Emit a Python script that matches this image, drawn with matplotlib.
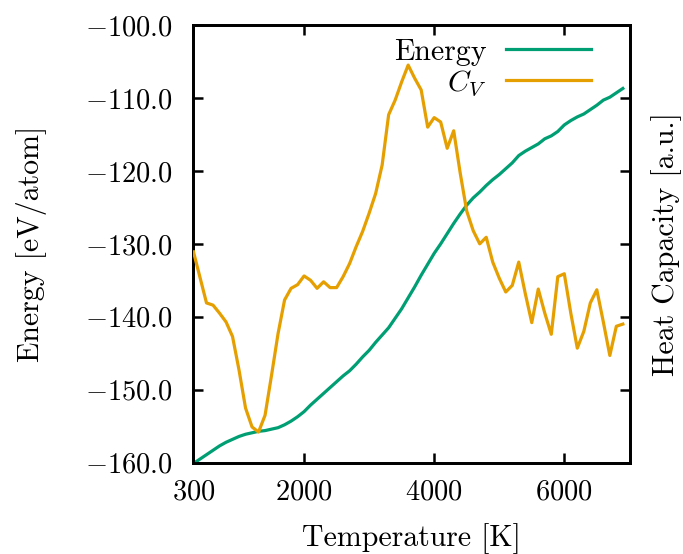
import numpy as np
import matplotlib
matplotlib.use("Agg")
import matplotlib.pyplot as plt
from matplotlib.ticker import FormatStrFormatter

plt.rcParams['font.family'] = ['cmr10', 'DejaVu Serif']
plt.rcParams['mathtext.fontset'] = 'cm'
plt.rcParams['axes.unicode_minus'] = False
plt.rcParams['font.size'] = 21.5

temperature = list(range(300, 7000, 100))

energy = [-160.1, -159.5, -158.9, -158.3, -157.7, -157.2, -156.8, -156.4, -156.1, -155.9,
          -155.7, -155.6, -155.4, -155.2, -154.8, -154.3, -153.7, -153.0, -152.1, -151.3,
          -150.5, -149.7, -148.9, -148.1, -147.4, -146.5, -145.5, -144.6, -143.5, -142.5,
          -141.5, -140.2, -138.9, -137.4, -135.9, -134.3, -132.8, -131.3, -130.0, -128.6,
          -127.2, -125.9, -124.7, -123.7, -122.9, -122.0, -121.2, -120.5, -119.7, -118.9,
          -117.9, -117.3, -116.8, -116.3, -115.6, -115.2, -114.6, -113.7, -113.1, -112.6,
          -112.2, -111.6, -111.0, -110.3, -109.9, -109.3, -108.7]

heat_capacity = [28.9, 25.4, 21.9, 21.6, 20.5, 19.3, 17.3, 12.7, 7.5, 4.9,
                 4.2, 6.5, 12.0, 17.7, 22.3, 23.9, 24.4, 25.6, 25.0, 23.9,
                 24.8, 24.0, 24.0, 25.5, 27.3, 29.6, 31.7, 34.2, 36.9, 40.8,
                 47.7, 49.7, 52.2, 54.5, 52.7, 51.1, 46.0, 47.3, 46.7, 43.1,
                 45.5, 39.7, 34.5, 31.8, 30.0, 30.9, 27.5, 25.3, 23.4, 24.3,
                 27.5, 23.2, 19.2, 23.8, 20.5, 17.6, 25.5, 25.9, 20.5, 15.7,
                 18.0, 21.9, 23.7, 19.3, 14.7, 18.7, 19.0]

x_ticks = [300, 2000, 4000, 6000]
y_ticks = [-160, -150, -140, -130, -120, -110, -100]

green = '#009E73'
orange = '#E69F00'

fig = plt.figure(figsize=(6.83, 5.54), dpi=100)
ax = fig.add_axes([0.2833, 0.1648, 0.9224 - 0.2833, 0.9549 - 0.1648])
ax2 = ax.twinx()

l1, = ax.plot(temperature, energy, color=green, lw=2.3, label='Energy', zorder=3)
l2, = ax2.plot(temperature, heat_capacity, color=orange, lw=2.3, label='$C_V$', zorder=3)

ax.set_xlim(300, 7010)
ax.set_ylim(-160, -100)
ax2.set_ylim(0, 60)
ax.set_xticks(x_ticks)
ax.set_xticklabels([f'${t}$' for t in x_ticks])
ax.set_yticks(y_ticks)
ax.yaxis.set_major_formatter(FormatStrFormatter('$%.1f$'))
ax2.set_yticks([0, 10, 20, 30, 40, 50, 60])
ax2.set_yticklabels([])

ax.tick_params(axis='both', direction='in', length=7.2, width=1.8, top=True, right=False,
               labelsize=20.5)
ax.tick_params(axis='y', pad=15)
ax.tick_params(axis='x', pad=12)
ax2.tick_params(axis='y', direction='in', length=7.2, width=1.8)
for a in (ax, ax2):
    for s in a.spines.values():
        s.set_linewidth(2.0)

ax.set_xlabel('Temperature [K]')
ax.set_ylabel('Energy [eV/atom]')
ax2.set_ylabel('Heat Capacity [a.u.]')
ax.xaxis.set_label_coords(0.5, -0.137)
ax.yaxis.set_label_coords(-0.335, 0.5)
ax2.yaxis.set_label_coords(1.049, 0.5)

leg = ax2.legend([l1, l2], ['Energy', '$C_V$'], loc='upper right',
                 bbox_to_anchor=(0.911, 0.970), frameon=False, markerfirst=False,
                 handlelength=2.84, labelspacing=0.09, handletextpad=0.67,
                 borderaxespad=0.0, borderpad=0.0, fontsize=21.5)

fig.savefig('out.png', dpi=100)
